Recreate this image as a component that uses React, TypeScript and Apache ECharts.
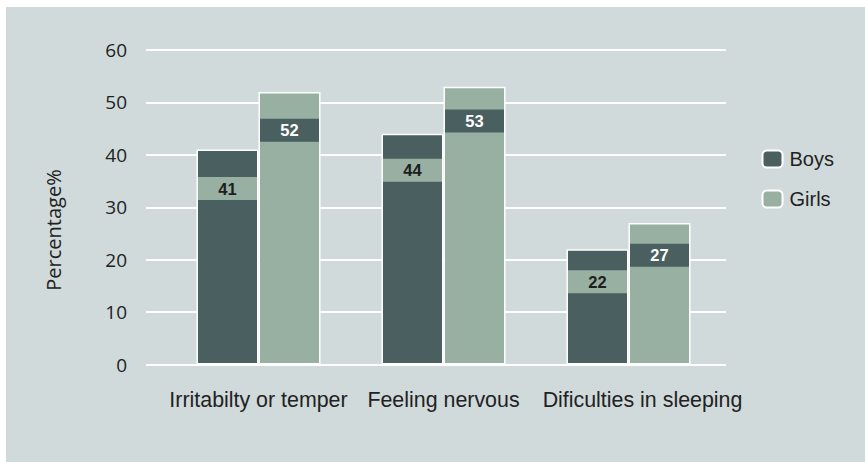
import React, { useEffect, useRef } from "react";
import * as echarts from "echarts";

const categories = ["Irritabilty or temper", "Feeling nervous", "Dificulties in sleeping"];
const boysValues = [41, 44, 22];
const girlsValues = [52, 53, 27];
const yTicks = { min: 0, max: 60, interval: 10 };
const seriesNames = ["Boys", "Girls"];
const yAxisTitle = "Percentage%";

const BOYS = "#4a5f60";
const GIRLS = "#97b0a2";
const BG = "#d0dadb";

export default function App() {
  const ref = useRef<HTMLDivElement>(null);
  useEffect(() => {
    document.body.style.margin = "0";
    if (!ref.current) return;
    const chart = echarts.init(ref.current, null, { renderer: "svg" });
    // label band offsets from the bar top (styling only)
    const boysBandGap = [27.5, 25, 21];
    const girlsBandGap = [26.7, 22.7, 20.7];
    const labelBase = {
      show: true,
      position: "insideTop",
      formatter: "{c}",
      fontFamily: "Liberation Sans, Arial, sans-serif",
      fontSize: 16.5,
      fontWeight: "bold",
      width: 59,
      height: 23,
      lineHeight: 23,
      align: "center",
      verticalAlign: "top",
      padding: 0,
    };
    const withBands = (vals: number[], gaps: number[]) =>
      vals.map((v, i) => ({ value: v, label: { distance: gaps[i] } }));
    chart.setOption({
      animation: false,
      backgroundColor: BG,
      textStyle: { fontFamily: "Liberation Sans, Arial, sans-serif" },
      grid: [
        { left: 140, right: 139, top: 43, bottom: 97.5 },
        { left: 160, right: 144, top: 43, bottom: 97.5 },
      ],
      xAxis: [
        { type: "value", gridIndex: 0, show: false, min: 0, max: 1 },
        {
          type: "category",
          gridIndex: 1,
          data: categories,
          axisLine: { show: false },
          axisTick: { show: false },
          axisLabel: {
            interval: 0,
            hideOverlap: false,
            color: "#222",
            fontSize: 21.4,
            margin: 25,
            fontFamily: "Liberation Sans, Arial, sans-serif",
            formatter: (v: string, i: number) => (i === 2 ? "{s|" + v + "}" : v),
            rich: {
              s: {
                fontSize: 21.4,
                color: "#222",
                fontFamily: "Liberation Sans, Arial, sans-serif",
                padding: [0, 0, 0, 28],
              },
            },
          },
        },
      ],
      yAxis: [
        {
          type: "value",
          gridIndex: 0,
          min: yTicks.min,
          max: yTicks.max,
          interval: yTicks.interval,
          axisLine: { show: false },
          axisTick: { show: false },
          axisLabel: {
            color: "#222",
            fontSize: 19,
            margin: 19,
            fontFamily: "Open Sans, sans-serif",
          },
          splitLine: { lineStyle: { color: "#ffffff", width: 2 } },
        },
        {
          type: "value",
          gridIndex: 1,
          min: yTicks.min,
          max: yTicks.max,
          interval: yTicks.interval,
          show: false,
          splitLine: { show: false },
        },
      ],
      legend: {
        orient: "vertical",
        left: 750.5,
        top: 137,
        itemWidth: 20,
        itemHeight: 17,
        itemGap: 20,
        data: seriesNames,
        textStyle: {
          color: "#222",
          fontSize: 20,
          lineHeight: 20,
          padding: [0, 0, 0, 2],
          fontFamily: "Liberation Sans, Arial, sans-serif",
        },
      },
      graphic: [
        {
          type: "text",
          x: 47,
          y: 223,
          rotation: Math.PI / 2,
          style: {
            text: yAxisTitle,
            fontSize: 20,
            fontFamily: "Open Sans, sans-serif",
            fill: "#222",
            textAlign: "center",
            textVerticalAlign: "middle",
          },
        },
      ],
      series: [
        {
          name: seriesNames[0],
          type: "bar",
          xAxisIndex: 1,
          yAxisIndex: 1,
          data: withBands(boysValues, boysBandGap),
          barWidth: 62,
          barGap: "0%",
          itemStyle: { color: BOYS, borderColor: "#ffffff", borderWidth: 1.5 },
          label: { ...labelBase, color: "#1e1e1e", backgroundColor: GIRLS },
        },
        {
          name: seriesNames[1],
          type: "bar",
          xAxisIndex: 1,
          yAxisIndex: 1,
          data: withBands(girlsValues, girlsBandGap),
          barWidth: 62,
          barGap: "0%",
          itemStyle: { color: GIRLS, borderColor: "#ffffff", borderWidth: 1.5 },
          label: { ...labelBase, color: "#ffffff", backgroundColor: BOYS },
        },
      ],
    });
    return () => chart.dispose();
  }, []);
  return (
    <div style={{ width: 865, height: 462, background: "#ffffff", position: "relative" }}>
      <div
        ref={ref}
        style={{ position: "absolute", left: 6, top: 7, width: 859, height: 455 }}
      />
    </div>
  );
}
